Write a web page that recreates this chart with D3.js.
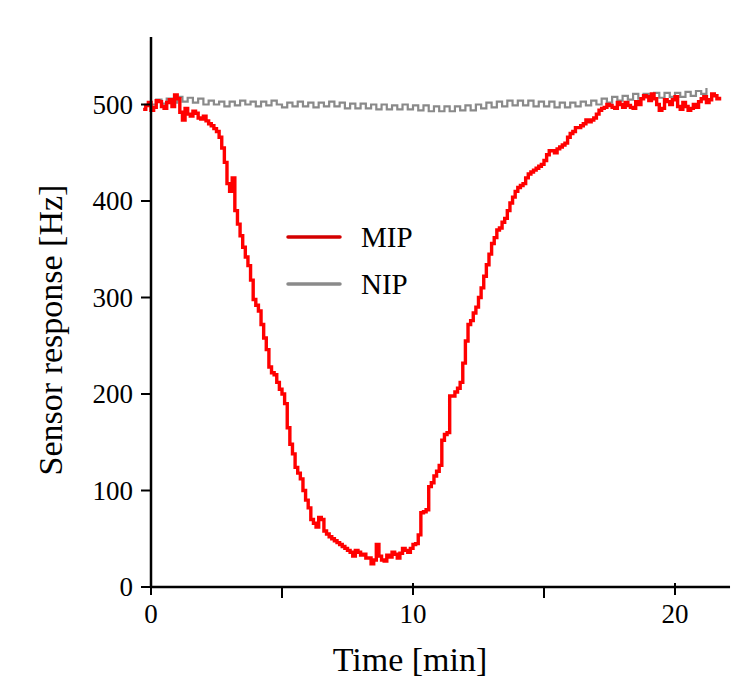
<!DOCTYPE html>
<html>
<head>
<meta charset="utf-8">
<script src="https://cdn.jsdelivr.net/npm/d3@7"></script>
<style>
html,body{margin:0;padding:0;background:#fff;}
svg{display:block;font-family:"Liberation Serif","Times New Roman",serif;}
</style>
</head>
<body>
<svg id="chart" width="755" height="698"></svg>
<script>
// ---- data ----
const seriesNames = ["MIP", "NIP"];
const mipTime = [-0.3,-0.2,-0.1,0.0,0.1,0.2,0.3,0.4,0.5,0.6,0.7,0.8,0.9,1.0,1.1,1.2,1.3,1.4,1.5,1.6,1.7,1.8,1.9,2.0,2.1,2.2,2.3,2.4,2.5,2.6,2.7,2.8,2.9,3.0,3.1,3.2,3.3,3.4,3.5,3.6,3.7,3.8,3.9,4.0,4.1,4.2,4.3,4.4,4.5,4.6,4.7,4.8,4.9,5.0,5.1,5.2,5.3,5.4,5.5,5.6,5.7,5.8,5.9,6.0,6.1,6.2,6.3,6.4,6.5,6.6,6.7,6.8,6.9,7.0,7.1,7.2,7.3,7.4,7.5,7.6,7.7,7.8,7.9,8.0,8.1,8.2,8.3,8.4,8.5,8.6,8.7,8.8,8.9,9.0,9.1,9.2,9.3,9.4,9.5,9.6,9.7,9.8,9.9,10.0,10.1,10.2,10.3,10.4,10.5,10.6,10.7,10.8,10.9,11.0,11.1,11.2,11.3,11.4,11.5,11.6,11.7,11.8,11.9,12.0,12.1,12.2,12.3,12.4,12.5,12.6,12.7,12.8,12.9,13.0,13.1,13.2,13.3,13.4,13.5,13.6,13.7,13.8,13.9,14.0,14.1,14.2,14.3,14.4,14.5,14.6,14.7,14.8,14.9,15.0,15.1,15.2,15.3,15.4,15.5,15.6,15.7,15.8,15.9,16.0,16.1,16.2,16.3,16.4,16.5,16.6,16.7,16.8,16.9,17.0,17.1,17.2,17.3,17.4,17.5,17.6,17.7,17.8,17.9,18.0,18.1,18.2,18.3,18.4,18.5,18.6,18.7,18.8,18.9,19.0,19.1,19.2,19.3,19.4,19.5,19.6,19.7,19.8,19.9,20.0,20.1,20.2,20.3,20.4,20.5,20.6,20.7,20.8,20.9,21.0,21.1,21.2,21.3,21.4,21.5,21.6,21.7];
const mipValue = [495,499,502,494,497,504,503,498,496,502,505,498,510,506,492,484,496,490,488,493,491,486,485,488,483,480,478,475,472,466,455,440,418,410,424,390,376,364,352,342,333,318,298,292,286,272,258,246,228,222,220,212,205,200,190,165,148,138,124,118,112,100,90,82,70,66,62,72,70,58,55,52,50,48,46,44,42,40,38,36,32,38,36,33,34,30,30,24,28,44,32,28,27,33,31,36,34,30,35,40,38,36,40,44,45,54,77,78,80,104,108,115,120,126,152,158,160,198,198,202,206,212,232,255,272,276,284,290,300,310,322,334,345,356,362,370,372,378,382,390,398,404,410,414,416,418,424,428,430,432,434,436,438,442,448,452,452,450,454,456,458,460,466,470,472,476,476,478,480,484,482,484,486,490,494,496,497,500,499,497,496,502,500,497,502,499,497,496,503,500,506,509,508,504,511,506,500,494,496,505,503,500,505,508,498,495,502,498,494,496,500,497,503,506,508,502,505,511,509,506,508];
const nipTime = [0.0,0.2,0.4,0.6,0.8,1.0,1.2,1.4,1.6,1.8,2.0,2.2,2.4,2.6,2.8,3.0,3.2,3.4,3.6,3.8,4.0,4.2,4.4,4.6,4.8,5.0,5.2,5.4,5.6,5.8,6.0,6.2,6.4,6.6,6.8,7.0,7.2,7.4,7.6,7.8,8.0,8.2,8.4,8.6,8.8,9.0,9.2,9.4,9.6,9.8,10.0,10.2,10.4,10.6,10.8,11.0,11.2,11.4,11.6,11.8,12.0,12.2,12.4,12.6,12.8,13.0,13.2,13.4,13.6,13.8,14.0,14.2,14.4,14.6,14.8,15.0,15.2,15.4,15.6,15.8,16.0,16.2,16.4,16.6,16.8,17.0,17.2,17.4,17.6,17.8,18.0,18.2,18.4,18.6,18.8,19.0,19.2,19.4,19.6,19.8,20.0,20.2,20.4,20.6,20.8,21.0,21.2];
const nipValue = [500,505,501,506,502,508,503,507,502,506,500,504,500,503,498,503,499,504,500,503,498,503,499,504,500,497,502,498,503,498,502,497,502,498,503,498,502,496,501,496,501,496,500,495,500,495,499,495,500,495,499,494,499,493,498,493,498,493,498,494,499,494,500,496,502,497,503,498,504,499,504,499,504,498,503,498,503,497,502,497,502,498,503,499,504,500,506,502,508,504,509,505,511,506,511,507,512,507,512,508,512,508,513,509,514,511,517];
const xTicks = [0, 5, 10, 15, 20];
const xTickLabels = ["0", "", "10", "", "20"];
const yTicks = [0, 100, 200, 300, 400, 500];
const xTitle = "Time [min]";
const yTitle = "Sensor response [Hz]";

// ---- drawing ----
const svg = d3.select("#chart");
const x = d3.scaleLinear().domain([0, 20]).range([151, 675]);
const y = d3.scaleLinear().domain([0, 500]).range([587, 104.5]);
const xEnd = 22.1, yTop = 570;

const line = d3.line().x(d => x(d[0])).y(d => y(d[1])).curve(d3.curveStepAfter);
const mip = mipTime.map((t, i) => [t, mipValue[i]]);
const nip = nipTime.map((t, i) => [t, nipValue[i]]);

svg.append("path").datum(nip).attr("d", line)
  .attr("fill", "none").attr("stroke", "#8a8a8a").attr("stroke-width", 2.2);
svg.append("path").datum(mip).attr("d", line)
  .attr("fill", "none").attr("stroke", "#ff0000").attr("stroke-width", 3.4);

// axes lines
svg.append("line").attr("x1", x(0)).attr("x2", x(0)).attr("y1", y(yTop)).attr("y2", y(0))
  .attr("stroke", "#000").attr("stroke-width", 2.5);
svg.append("line").attr("x1", x(0)).attr("x2", x(xEnd)).attr("y1", y(0)).attr("y2", y(0))
  .attr("stroke", "#000").attr("stroke-width", 2.5);

// x ticks
const xt = svg.append("g");
xTicks.forEach((v, i) => {
  const major = xTickLabels[i] !== "";
  xt.append("line").attr("x1", x(v)).attr("x2", x(v))
    .attr("y1", y(0) - (major ? 4 : 0)).attr("y2", y(0) + (major ? 8 : 11))
    .attr("stroke", "#000").attr("stroke-width", 2);
  if (major) {
    xt.append("text").attr("x", x(v)).attr("y", 623).attr("text-anchor", "middle")
      .attr("font-size", 27).attr("fill", "#000").text(xTickLabels[i]);
  }
});

// y ticks
const yt = svg.append("g");
yTicks.forEach(v => {
  yt.append("line").attr("x1", x(0) - 10).attr("x2", x(0) + (v === 0 ? 3 : 0))
    .attr("y1", y(v)).attr("y2", y(v)).attr("stroke", "#000").attr("stroke-width", 2);
  yt.append("text").attr("x", 133).attr("y", y(v) + 9).attr("text-anchor", "end")
    .attr("font-size", 27).attr("fill", "#000").text(String(v));
});

// titles
svg.append("text").attr("x", 410).attr("y", 671).attr("text-anchor", "middle")
  .attr("font-size", 34).attr("fill", "#000").text(xTitle);
svg.append("text").attr("transform", "translate(62,330) rotate(-90)").attr("text-anchor", "middle")
  .attr("font-size", 34).attr("fill", "#000").text(yTitle);

// legend
const legColors = ["#d40000", "#8a8a8a"];
const legY = [237, 284];
seriesNames.forEach((name, i) => {
  svg.append("line").attr("x1", 288).attr("x2", 340).attr("y1", legY[i]).attr("y2", legY[i])
    .attr("stroke", legColors[i]).attr("stroke-width", 3.5).attr("stroke-linecap", "round");
  svg.append("text").attr("x", 361).attr("y", legY[i] + 10).attr("font-size", 29)
    .attr("fill", "#000").text(name);
});
</script>
</body>
</html>
